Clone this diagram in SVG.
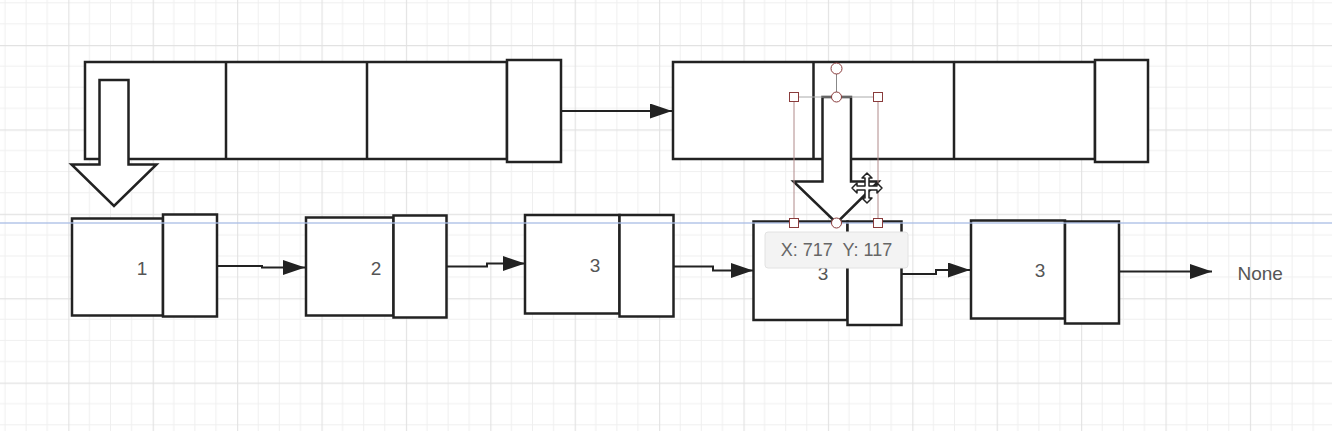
<svg xmlns="http://www.w3.org/2000/svg" width="1332" height="431" viewBox="0 0 1332 431">
<style>
.box{fill:#fff;stroke:#222;stroke-width:2.5}
.ln{stroke:#222;stroke-width:2.5;fill:none}
.conn{fill:none;stroke:#222;stroke-width:2;marker-end:url(#ah)}
.val{font-family:"Liberation Sans",Arial,sans-serif;font-size:19px;fill:#555;text-anchor:middle;dominant-baseline:central}
.blk{fill:#fff;stroke:#222;stroke-width:2.5;stroke-linejoin:miter}
.hnd{fill:#fff;stroke:#8a3c3c;stroke-width:1}
.sel{stroke:#b08a8a;stroke-width:1;fill:none}
</style>
<defs>
<pattern id="grid" x="68.3" y="45" width="84.4" height="84.4" patternUnits="userSpaceOnUse">
<path d="M21.1 0V84.4M42.2 0V84.4M63.3 0V84.4M0 21.1H84.4M0 42.2H84.4M0 63.3H84.4" stroke="#efefef" stroke-width="1"/>
<path d="M0.5 0V84.4M0 0.5H84.4" stroke="#e2e2e2" stroke-width="1.3"/>
</pattern>
<marker id="ah" markerUnits="userSpaceOnUse" markerWidth="22" markerHeight="15" refX="22" refY="7.5" orient="auto">
<path d="M0 0L22 7.5L0 15z" fill="#222"/>
</marker>
</defs>
<rect width="1332" height="431" fill="#fff"/>
<rect width="1332" height="431" fill="url(#grid)"/>

<g id="connectors">
<path class="conn" d="M561 111H672"/>
<path class="conn" d="M217 266H262V267.5H305"/>
<path class="conn" d="M447 266.5H487V263.5H525"/>
<path class="conn" d="M673 266.5H713V270.5H753"/>
<path class="conn" d="M902 274H936V270H970"/>
<path class="conn" d="M1119 271.5H1212"/>
</g>

<g id="top-list-1">
<rect class="box" x="85" y="62" width="422" height="97"/>
<path class="ln" d="M226 62V159M367 62V159"/>
<rect class="box" x="507" y="60" width="54" height="102"/>
</g>
<g id="top-list-2">
<rect class="box" x="673" y="62" width="422" height="97"/>
<path class="ln" d="M813.5 62V159M954 62V159"/>
<rect class="box" x="1095" y="60" width="53" height="102"/>
</g>

<g id="node-1">
<rect class="box" x="72" y="218.5" width="91" height="97"/>
<rect class="box" x="163" y="214.5" width="54" height="102"/>
<text class="val" x="142" y="268">1</text>
</g>
<g id="node-2">
<rect class="box" x="306" y="217.5" width="87.5" height="98"/>
<rect class="box" x="393.5" y="215.5" width="53" height="102"/>
<text class="val" x="376" y="268">2</text>
</g>
<g id="node-3">
<rect class="box" x="525" y="215" width="94.5" height="98.5"/>
<rect class="box" x="619.5" y="215" width="54" height="101.5"/>
<text class="val" x="595" y="265">3</text>
</g>
<g id="node-4">
<rect class="box" x="753.5" y="221.5" width="94" height="98.5"/>
<rect class="box" x="847.5" y="221.5" width="54" height="103.5"/>
<text class="val" x="823" y="273">3</text>
</g>
<g id="node-5">
<rect class="box" x="971" y="220.5" width="94" height="98"/>
<rect class="box" x="1065" y="221.5" width="54" height="102"/>
<text class="val" x="1040" y="270">3</text>
</g>
<g id="none-label">
<text x="1237.5" y="273" font-family="Liberation Sans, Arial, sans-serif" font-size="19" fill="#555" dominant-baseline="central">None</text>
</g>

<g id="block-arrow-1">
<path class="blk" d="M99.5 80H128.5V164.5H156.5L114 206L71.5 164.5H99.5Z"/>
</g>
<g id="block-arrow-2">
<path class="blk" d="M822.5 97H851V181.5H878.5L836.5 223L793.5 181.5H822.5Z"/>
</g>

<line x1="0" y1="223" x2="1332" y2="223" stroke="#a8bde6" stroke-width="1.5" opacity="0.85"/>

<g id="selection">
<path class="sel" d="M794 97V223M878 97V223"/>
<path d="M794 97H878" stroke="#aaa" stroke-width="1"/>
<path d="M836.5 74V92" stroke="#888" stroke-width="1"/>
<circle class="hnd" cx="836.5" cy="68.5" r="5.5" stroke="#777"/>
<circle class="hnd" cx="836.5" cy="97" r="5" stroke="#777"/>
<circle class="hnd" cx="836.5" cy="223" r="5" stroke="#777"/>
<rect class="hnd" x="789.5" y="92.5" width="9" height="9"/>
<rect class="hnd" x="873.5" y="92.5" width="9" height="9"/>
<rect class="hnd" x="789.5" y="218.5" width="9" height="9"/>
<rect class="hnd" x="873.5" y="218.5" width="9" height="9"/>
</g>

<g id="tooltip">
<rect x="765" y="232" width="143" height="36" rx="3" fill="#f3f3f3" stroke="#e2e2e2" stroke-width="1"/>
<text x="836.5" y="250" font-family="Liberation Sans, Arial, sans-serif" font-size="18" fill="#666" text-anchor="middle" dominant-baseline="central" style="white-space:pre">X: 717  Y: 117</text>
</g>

<g id="cursor" transform="translate(867 188)">
<path d="M0 -15L5 -10H2V-2H10V-5L15 0L10 5V2H2V10H5L0 15L-5 10H-2V2H-10V5L-15 0L-10 -5V-2H-2V-10H-5Z" fill="#fff" stroke="#222" stroke-width="1.5" stroke-linejoin="round"/>
</g>
</svg>
